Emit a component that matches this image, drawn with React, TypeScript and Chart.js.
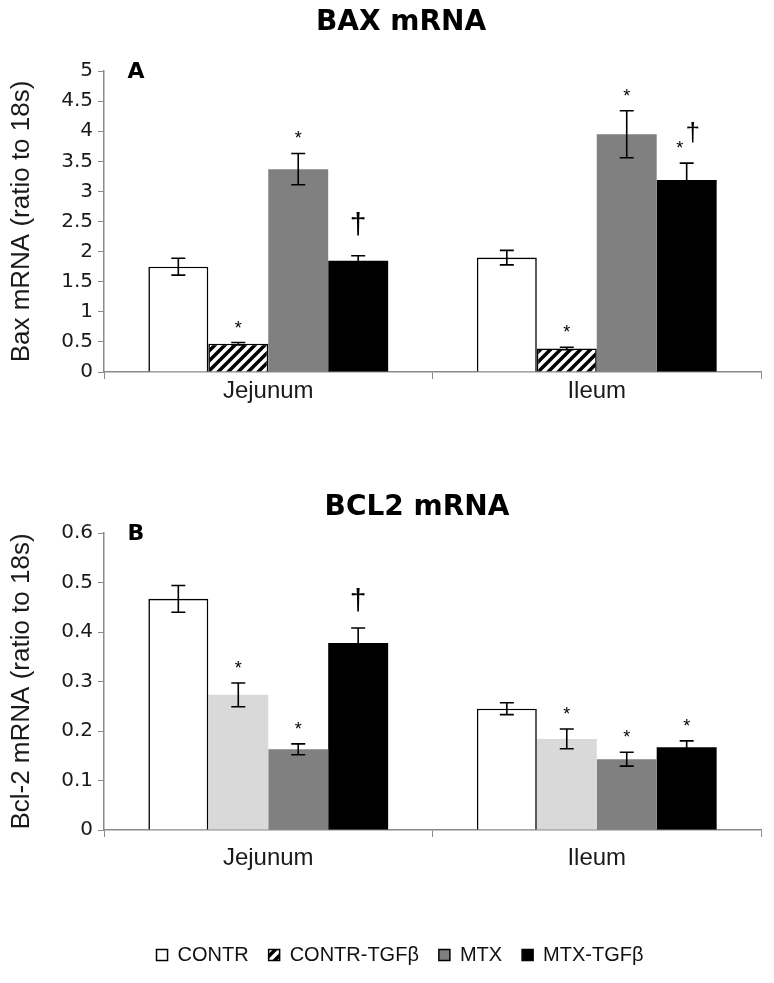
import React, { useEffect, useRef } from "react";
import { Chart, registerables } from "chart.js";

Chart.register(...registerables);

// ---------- data ----------
const categories = ["Jejunum", "Ileum"];
const seriesNames = ["CONTR", "CONTR-TGFβ", "MTX", "MTX-TGFβ"];

// BAX mRNA (ratio to 18s)
const baxContr = [1.75, 1.9];
const baxContrTgf = [0.47, 0.39];
const baxMtx = [3.37, 3.95];
const baxMtxTgf = [1.85, 3.19];
const baxContrErr = [0.14, 0.12];
const baxContrTgfErr = [0.02, 0.02];
const baxMtxErr = [0.26, 0.39];
const baxMtxTgfErr = [0.08, 0.28];
const baxContrSig = ["", ""];
const baxContrTgfSig = ["*", "*"];
const baxMtxSig = ["*", "*"];
const baxMtxTgfSig = ["†", "*†"];

// Bcl-2 mRNA (ratio to 18s)
const bclContr = [0.467, 0.245];
const bclContrTgf = [0.273, 0.184];
const bclMtx = [0.163, 0.143];
const bclMtxTgf = [0.378, 0.167];
const bclContrErr = [0.027, 0.012];
const bclContrTgfErr = [0.024, 0.02];
const bclMtxErr = [0.011, 0.014];
const bclMtxTgfErr = [0.03, 0.013];
const bclContrSig = ["", ""];
const bclContrTgfSig = ["*", "*"];
const bclMtxSig = ["*", "*"];
const bclMtxTgfSig = ["†", "*"];

const baxAxisMax = 5;
const baxAxisStep = 0.5;
const bclAxisMax = 0.6;
const bclAxisStep = 0.1;

// ---------- helpers ----------
const SANS = "'Liberation Sans', Arial, sans-serif";
const WIDE = "'DejaVu Sans', sans-serif";
const AXIS_GRAY = "#8a8a8a";
const TEXT = "#1a1a1a";

function makeHatch(): CanvasPattern | string {
  const c = document.createElement("canvas");
  c.width = 10;
  c.height = 10;
  const g = c.getContext("2d");
  if (!g) return "#888";
  g.fillStyle = "#fff";
  g.fillRect(0, 0, 10, 10);
  g.strokeStyle = "#000";
  g.lineWidth = 3.5;
  g.beginPath();
  g.moveTo(-5, 5);
  g.lineTo(5, -5);
  g.moveTo(0, 10);
  g.lineTo(10, 0);
  g.moveTo(5, 15);
  g.lineTo(15, 5);
  g.stroke();
  return g.createPattern(c, "repeat") || "#888";
}

function fmtTick(v: number | string) {
  return String(Math.round(Number(v) * 100) / 100);
}

function errorPlugin(daggerGap: number) {
  return {
    id: "errbars",
    afterDatasetsDraw(chart: any) {
      const { ctx } = chart;
      const y = chart.scales.y;
      chart.data.datasets.forEach((ds: any, i: number) => {
        const meta = chart.getDatasetMeta(i);
        meta.data.forEach((bar: any, j: number) => {
          const v = ds.data[j];
          const e = ds.errors[j];
          const x = bar.x;
          const yt = y.getPixelForValue(v + e);
          const yb = y.getPixelForValue(v - e);
          ctx.save();
          ctx.strokeStyle = "#000";
          ctx.lineWidth = 1.6;
          ctx.beginPath();
          ctx.moveTo(x, yt);
          ctx.lineTo(x, yb);
          ctx.moveTo(x - 7, yt);
          ctx.lineTo(x + 7, yt);
          ctx.moveTo(x - 7, yb);
          ctx.lineTo(x + 7, yb);
          ctx.stroke();
          const s: string = ds.sig[j];
          ctx.fillStyle = "#000";
          ctx.textAlign = "center";
          ctx.textBaseline = "alphabetic";
          if (s === "*") {
            ctx.font = `18px ${SANS}`;
            ctx.fillText("*", x, yt - 9);
          } else if (s === "†") {
            ctx.font = `30px ${SANS}`;
            ctx.fillText("†", x, yt - daggerGap);
          } else if (s === "*†") {
            ctx.font = `18px ${SANS}`;
            ctx.fillText("*", x - 7, yt - 9);
            ctx.font = `26px ${SANS}`;
            ctx.fillText("†", x + 6, yt - daggerGap);
          }
          ctx.restore();
        });
      });
    },
  };
}

function decorPlugin(title: string, tx: number, ty: number, letter: string) {
  return {
    id: "decor",
    afterDraw(chart: any) {
      const { ctx, chartArea } = chart;
      ctx.save();
      ctx.fillStyle = "#000";
      ctx.textAlign = "center";
      ctx.textBaseline = "middle";
      ctx.font = `bold 28px ${WIDE}`;
      ctx.fillText(title, tx, ty);
      ctx.font = `bold 22px ${WIDE}`;
      ctx.fillText(letter, chartArea.left + 32, chartArea.top + 1);
      ctx.restore();
    },
  };
}

function buildDatasets(
  vals: number[][],
  errs: number[][],
  sigs: string[][],
  fills: any[],
  borders: number[]
) {
  return vals.map((v, i) => ({
    label: seriesNames[i],
    data: v,
    errors: errs[i],
    sig: sigs[i],
    backgroundColor: fills[i],
    borderColor: "#000",
    borderWidth: borders[i],
    categoryPercentage: 0.73,
    barPercentage: 1.0,
  }));
}

function scaleOptions(
  max: number,
  step: number,
  yTitle: string,
  xPad: number,
  xHeight: number
) {
  return {
    x: {
      grid: {
        display: true,
        drawOnChartArea: false,
        tickLength: 7,
        color: AXIS_GRAY,
        offset: true,
      },
      border: { display: true, color: AXIS_GRAY, width: 1.5 },
      ticks: { font: { family: SANS, size: 24 }, color: TEXT, padding: xPad },
      afterFit: (s: any) => {
        s.height = xHeight;
      },
    },
    y: {
      min: 0,
      max,
      ticks: {
        stepSize: step,
        font: { family: WIDE, size: 20 },
        color: TEXT,
        padding: 5,
        callback: fmtTick,
      },
      grid: {
        display: true,
        drawOnChartArea: false,
        tickLength: 6,
        color: AXIS_GRAY,
      },
      border: { display: true, color: AXIS_GRAY, width: 1.5 },
      title: {
        display: true,
        text: yTitle,
        font: { family: SANS, size: 26 },
        color: TEXT,
        padding: { top: 6, bottom: 0 },
      },
      afterFit: (s: any) => {
        s.width = 104;
      },
    },
  };
}

export default function App() {
  const topRef = useRef<HTMLCanvasElement>(null);
  const botRef = useRef<HTMLCanvasElement>(null);
  const legRef = useRef<HTMLCanvasElement>(null);

  useEffect(() => {
    const hatch = makeHatch();
    const charts: Chart[] = [];

    if (topRef.current) {
      charts.push(
        new Chart(topRef.current, {
          type: "bar",
          data: {
            labels: categories,
            datasets: buildDatasets(
              [baxContr, baxContrTgf, baxMtx, baxMtxTgf],
              [baxContrErr, baxContrTgfErr, baxMtxErr, baxMtxTgfErr],
              [baxContrSig, baxContrTgfSig, baxMtxSig, baxMtxTgfSig],
              ["#ffffff", hatch, "#808080", "#000000"],
              [1.6, 1.6, 0, 0]
            ) as any,
          },
          options: {
            responsive: false,
            animation: false,
            layout: { padding: { top: 71, right: 13, left: 0, bottom: 0 } },
            plugins: { legend: { display: false }, tooltip: { enabled: false } },
            scales: scaleOptions(baxAxisMax, baxAxisStep, "Bax mRNA (ratio to 18s)", -2, 48) as any,
          },
          plugins: [errorPlugin(22), decorPlugin("BAX mRNA", 401, 23, "A")],
        })
      );
    }

    if (botRef.current) {
      charts.push(
        new Chart(botRef.current, {
          type: "bar",
          data: {
            labels: categories,
            datasets: buildDatasets(
              [bclContr, bclContrTgf, bclMtx, bclMtxTgf],
              [bclContrErr, bclContrTgfErr, bclMtxErr, bclMtxTgfErr],
              [bclContrSig, bclContrTgfSig, bclMtxSig, bclMtxTgfSig],
              ["#ffffff", "#d9d9d9", "#808080", "#000000"],
              [1.6, 0, 0, 0]
            ) as any,
          },
          options: {
            responsive: false,
            animation: false,
            layout: { padding: { top: 93, right: 13, left: 0, bottom: 0 } },
            plugins: { legend: { display: false }, tooltip: { enabled: false } },
            scales: scaleOptions(bclAxisMax, bclAxisStep, "Bcl-2 mRNA (ratio to 18s)", 7, 92) as any,
          },
          plugins: [errorPlugin(18), decorPlugin("BCL2 mRNA", 417, 68, "B")],
        })
      );
    }

    if (legRef.current) {
      const legendFills = ["#ffffff", hatch, "#808080", "#000000"];
      charts.push(
        new Chart(legRef.current, {
          type: "bar",
          data: {
            labels: [],
            datasets: seriesNames.map((n, i) => ({
              label: n,
              data: [],
              backgroundColor: legendFills[i] as any,
            })),
          },
          options: {
            responsive: false,
            animation: false,
            layout: { padding: { top: 0, right: 0, left: 26, bottom: 0 } },
            scales: { x: { display: false }, y: { display: false } },
            plugins: {
              tooltip: { enabled: false },
              legend: {
                display: true,
                position: "top",
                maxHeight: 80,
                labels: {
                  boxWidth: 11,
                  boxHeight: 11,
                  padding: 20,
                  color: "#111",
                  font: { family: SANS, size: 20 },
                  generateLabels: () =>
                    seriesNames.map((n, i) => ({
                      text: n,
                      fillStyle: legendFills[i] as any,
                      strokeStyle: "#000",
                      lineWidth: 1.5,
                      hidden: false,
                      datasetIndex: i,
                      fontColor: "#111",
                    })),
                },
              },
            },
          },
        })
      );
    }

    return () => charts.forEach((c) => c.destroy());
  }, []);

  return (
    <div
      style={{
        position: "absolute",
        left: 0,
        top: 0,
        width: 774,
        height: 983,
        background: "#fff",
        overflow: "hidden",
      }}
    >
      <canvas
        ref={topRef}
        width={774}
        height={420}
        style={{ position: "absolute", left: 0, top: 0, display: "block" }}
      />
      <canvas
        ref={botRef}
        width={774}
        height={482}
        style={{ position: "absolute", left: 0, top: 440, display: "block" }}
      />
      <canvas
        ref={legRef}
        width={774}
        height={58}
        style={{ position: "absolute", left: 0, top: 925, display: "block" }}
      />
    </div>
  );
}
